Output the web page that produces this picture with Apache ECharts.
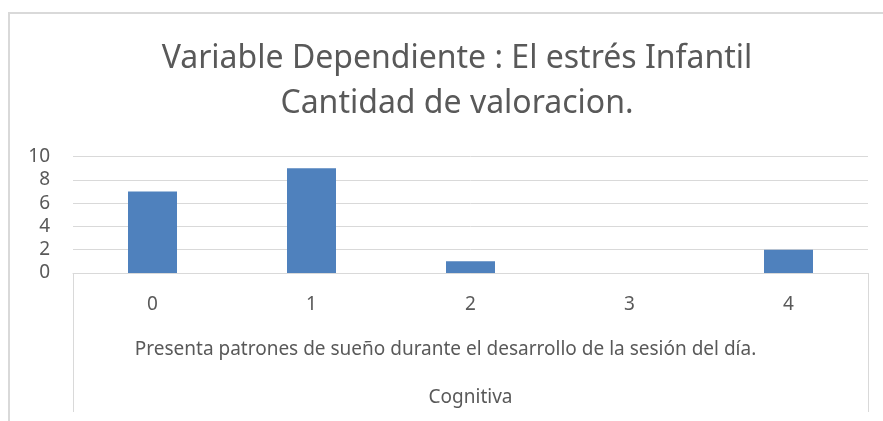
<!DOCTYPE html>
<html>
<head>
<meta charset="utf-8">
<script src="https://cdn.jsdelivr.net/npm/echarts@6/dist/echarts.min.js"></script>
<style>
  html, body { margin: 0; padding: 0; background: #fff; }
  #chart { width: 883px; height: 421px; }
</style>
</head>
<body>
<div id="chart"></div>
<script>
// datos
const categories = ['0', '1', '2', '3', '4']
const values = [7, 9, 1, 0, 2]
const groupLabel = ['Presenta patrones de sueño durante el desarrollo de la sesión del día.']
const topLabel = ['Cognitiva']
const titleText = 'Variable Dependiente : El estrés Infantil\nCantidad de valoracion.'

const font = 'Noto Sans'
const textColor = '#595959'
const lineColor = '#d9d9d9'

const myChart = echarts.init(document.getElementById('chart'))

const option = {
  animation: false,
  backgroundColor: '#fff',
  textStyle: { fontFamily: font },
  title: {
    text: titleText,
    left: 457,
    top: 36,
    padding: 0,
    textAlign: 'center',
    textStyle: {
      fontFamily: font,
      fontSize: 32,
      fontWeight: 'normal',
      color: textColor,
      lineHeight: 45
    }
  },
  // borde exterior del grafico
  graphic: [
    {
      type: 'rect',
      shape: { x: 9, y: 13, width: 1000, height: 600 },
      style: { fill: 'none', stroke: lineColor, lineWidth: 2 },
      silent: true
    }
  ],
  grid: {
    left: 73,
    right: 15,
    top: 156.5,
    bottom: 148,
    containLabel: false
  },
  xAxis: [
    {
      type: 'category',
      data: categories,
      axisLine: { show: true, lineStyle: { color: lineColor, width: 1 } },
      axisTick: { show: false },
      axisLabel: {
        margin: 22,
        fontSize: 19,
        color: textColor,
        fontFamily: font
      }
    },
    {
      // segundo nivel de categorias
      type: 'category',
      position: 'bottom',
      data: groupLabel,
      axisLine: { show: false },
      axisTick: { show: true, length: 139, lineStyle: { color: lineColor, width: 1 } },
      axisLabel: {
        margin: 67,
        fontSize: 19,
        color: textColor,
        fontFamily: font,
        padding: [0, 50, 0, 0]
      }
    },
    {
      type: 'category',
      position: 'bottom',
      data: topLabel,
      axisLine: { show: false },
      axisTick: { show: false },
      axisLabel: {
        margin: 115,
        fontSize: 19,
        color: textColor,
        fontFamily: font
      }
    }
  ],
  yAxis: {
    type: 'value',
    min: 0,
    max: 10,
    interval: 2,
    axisLine: { show: false },
    axisTick: { show: false },
    axisLabel: {
      margin: 23,
      fontSize: 19,
      color: textColor,
      fontFamily: font
    },
    splitLine: { lineStyle: { color: lineColor, width: 1 } }
  },
  series: [
    {
      type: 'bar',
      data: values,
      barWidth: 49,
      itemStyle: { color: '#4f81bd' }
    }
  ]
}

myChart.setOption(option)
</script>
</body>
</html>
